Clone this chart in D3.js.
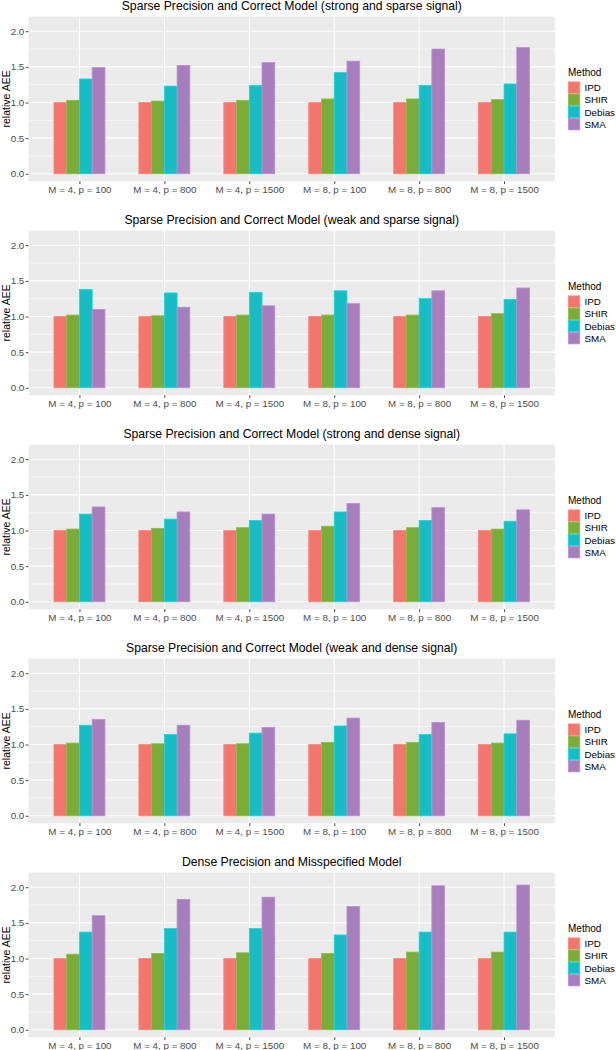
<!DOCTYPE html>
<html>
<head>
<meta charset="utf-8">
<script src="https://cdn.jsdelivr.net/npm/d3@7"></script>
<style>
  html, body { margin: 0; padding: 0; background: #ffffff; }
  svg { display: block; font-family: "Liberation Sans", Arial, sans-serif; }
</style>
</head>
<body>
<svg id="chart" width="616" height="1050"></svg>
<script>
// ---------- data ----------
const categories = ["M = 4, p = 100", "M = 4, p = 800", "M = 4, p = 1500",
                    "M = 8, p = 100", "M = 8, p = 800", "M = 8, p = 1500"];
const methods = ["IPD", "SHIR", "Debias", "SMA"];
const methodColors = ["#F3766D", "#7AAB3B", "#18BDC4", "#A67EBB"];
const yTicks = [0, 0.5, 1.0, 1.5, 2.0];
const yMinor = [0.25, 0.75, 1.25, 1.75];
const titles = [
  "Sparse Precision and Correct Model (strong and sparse signal)",
  "Sparse Precision and Correct Model (weak and sparse signal)",
  "Sparse Precision and Correct Model (strong and dense signal)",
  "Sparse Precision and Correct Model (weak and dense signal)",
  "Dense Precision and Misspecified Model"
];
// per panel: values per method across categories
const ipd = [1.00, 1.00, 1.00, 1.00, 1.00, 1.00];
const shir1   = [1.03, 1.02, 1.03, 1.05, 1.05, 1.04];
const debias1 = [1.33, 1.23, 1.24, 1.42, 1.24, 1.26];
const sma1    = [1.49, 1.52, 1.56, 1.58, 1.75, 1.77];
const shir2   = [1.02, 1.01, 1.02, 1.02, 1.02, 1.04];
const debias2 = [1.38, 1.33, 1.34, 1.36, 1.25, 1.24];
const sma2    = [1.10, 1.13, 1.15, 1.18, 1.36, 1.40];
const shir3   = [1.02, 1.03, 1.04, 1.06, 1.04, 1.02];
const debias3 = [1.23, 1.16, 1.14, 1.26, 1.14, 1.13];
const sma3    = [1.33, 1.26, 1.23, 1.38, 1.32, 1.29];
const shir4   = [1.02, 1.01, 1.01, 1.03, 1.03, 1.02];
const debias4 = [1.27, 1.14, 1.16, 1.26, 1.14, 1.15];
const sma4    = [1.35, 1.27, 1.24, 1.37, 1.31, 1.34];
const shir5   = [1.06, 1.07, 1.08, 1.07, 1.09, 1.09];
const debias5 = [1.37, 1.42, 1.42, 1.33, 1.37, 1.37];
const sma5    = [1.60, 1.83, 1.86, 1.73, 2.02, 2.03];
const panels = [
  [ipd, shir1, debias1, sma1],
  [ipd, shir2, debias2, sma2],
  [ipd, shir3, debias3, sma3],
  [ipd, shir4, debias4, sma4],
  [ipd, shir5, debias5, sma5]
];
const yLimits = [0, 2.1];

// ---------- layout ----------
const svg = d3.select("#chart");
const panelLeft = 28.5, panelRight = 555;
const panelStep = 214;
const yOf2 = 31.2, yOf0 = 173.8;   // pixel positions of 2.0 and 0.0 in first panel
const unit = (yOf0 - yOf2) / 2;
const pad = (yLimits[1] - yLimits[0]) * 0.05;
const yDomain = [yLimits[0] - pad, yLimits[1] + pad];

const x = d3.scalePoint().domain(categories).range([panelLeft, panelRight]).padding(0.6);
const step = x.step();
const xInner = d3.scaleBand().domain(methods).range([-0.3 * step, 0.3 * step]).padding(0);
const color = d3.scaleOrdinal().domain(methods).range(methodColors);

panels.forEach((series, pi) => {
  const off = pi * panelStep;
  const top = yOf2 - (yDomain[1] - 2) * unit + off;
  const bottom = yOf0 + (0 - yDomain[0]) * unit + off;
  const y = d3.scaleLinear().domain(yDomain).range([bottom, top]);
  const g = svg.append("g");

  // background
  g.append("rect").attr("x", panelLeft).attr("y", top)
    .attr("width", panelRight - panelLeft).attr("height", bottom - top)
    .attr("fill", "#EBEBEB");

  // minor grid
  g.selectAll(".minor").data(yMinor).enter().append("line")
    .attr("x1", panelLeft).attr("x2", panelRight)
    .attr("y1", d => y(d)).attr("y2", d => y(d))
    .attr("stroke", "#ffffff").attr("stroke-width", 0.55);
  // major grid
  g.selectAll(".major").data(yTicks).enter().append("line")
    .attr("x1", panelLeft).attr("x2", panelRight)
    .attr("y1", d => y(d)).attr("y2", d => y(d))
    .attr("stroke", "#ffffff").attr("stroke-width", 1.1);
  g.selectAll(".vmajor").data(categories).enter().append("line")
    .attr("x1", d => x(d)).attr("x2", d => x(d))
    .attr("y1", top).attr("y2", bottom)
    .attr("stroke", "#ffffff").attr("stroke-width", 1.1);

  // bars
  methods.forEach((m, mi) => {
    g.selectAll(".bar" + mi).data(series[mi]).enter().append("rect")
      .attr("x", (d, ci) => x(categories[ci]) + xInner(m))
      .attr("width", xInner.bandwidth())
      .attr("y", d => y(d))
      .attr("height", d => y(0) - y(d))
      .attr("fill", color(m))
      .attr("stroke", d3.color(color(m)).brighter(0.35))
      .attr("stroke-width", 0.8);
  });

  // y axis
  const yAxis = d3.axisLeft(y).tickValues(yTicks).tickFormat(d3.format(".1f")).tickSize(2.7).tickPadding(1.5);
  const ya = g.append("g").attr("transform", `translate(${panelLeft},0)`).call(yAxis);
  ya.select(".domain").remove();
  ya.selectAll(".tick line").attr("stroke", "#333333").attr("stroke-width", 0.9);
  ya.selectAll(".tick text").attr("fill", "#4D4D4D").attr("font-size", "9.8px")
    .attr("font-family", "Liberation Sans, Arial, sans-serif");

  // x axis
  const xAxis = d3.axisBottom(x).tickSize(2.7).tickPadding(2);
  const xa = g.append("g").attr("transform", `translate(0,${bottom})`).call(xAxis);
  xa.select(".domain").remove();
  xa.selectAll(".tick line").attr("stroke", "#333333").attr("stroke-width", 0.9);
  xa.selectAll(".tick text").attr("fill", "#4D4D4D").attr("font-size", "9.8px")
    .attr("font-family", "Liberation Sans, Arial, sans-serif");

  // y title
  g.append("text")
    .attr("transform", `translate(9.5,${(top + bottom) / 2}) rotate(-90)`)
    .attr("text-anchor", "middle")
    .attr("font-size", "10.5px").attr("fill", "#000")
    .text("relative AEE");

  // title
  g.append("text")
    .attr("x", (panelLeft + panelRight) / 2).attr("y", 9.5 + off)
    .attr("text-anchor", "middle")
    .attr("font-size", "12.2px").attr("fill", "#000")
    .text(titles[pi]);

  // legend
  const lg = g.append("g").attr("transform", `translate(568,${off})`);
  lg.append("text").attr("x", 0).attr("y", 75.5)
    .attr("font-size", "10px").attr("fill", "#000").text("Method");
  const keyH = 12.2;
  methods.forEach((m, mi) => {
    lg.append("rect").attr("x", 0.4).attr("y", 81.5 + mi * keyH + 0.4)
      .attr("width", keyH - 0.8).attr("height", keyH - 0.8)
      .attr("fill", color(m))
      .attr("stroke", d3.color(color(m)).brighter(0.35)).attr("stroke-width", 0.8);
    lg.append("text").attr("x", 16.5).attr("y", 81.5 + mi * keyH + keyH / 2)
      .attr("dominant-baseline", "central")
      .attr("font-size", "9.8px").attr("fill", "#000").text(m);
  });
});
</script>
</body>
</html>
